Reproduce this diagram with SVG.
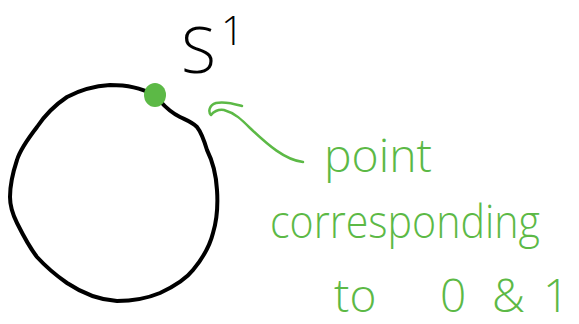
<svg xmlns="http://www.w3.org/2000/svg" width="579" height="324" viewBox="0 0 579 324">
<style>
.g{fill:#5cb946;font-family:"Open Sans","Liberation Sans",sans-serif;font-weight:300;font-size:46px}
.k{fill:#000000;font-family:"Open Sans","Liberation Sans",sans-serif;font-weight:300}
</style>
<rect width="579" height="324" fill="#fff"/>
<g id="circle">
<path d="M155,95 C140,88 128,85 110,85 C95,86 80,90 67,97 C55,105 45,115 37,127 C27,140 20,150 17,160 C12,175 10,187 10,197 C10,207 13,215 17,223 C24,237 30,248 37,257 C47,268 57,276 67,283 C82,293 100,300 117,301 C133,301 148,298 160,293 C175,286 186,279 193,270 C203,258 210,245 213,233 C217,220 218,205 217,190 C216,172 212,160 207,150 C204,140 201,132 197,127 C192,122 186,120 180,117 C172,113 167,109 160,101" fill="none" stroke="#000" stroke-width="4" stroke-linecap="round" stroke-linejoin="round"/>
</g>
<g id="dot">
<ellipse cx="155" cy="95" rx="11" ry="12" fill="#5cb946"/>
</g>
<g id="label-s1">
<text class="k" x="181" y="73" font-size="64">S<tspan x="221" y="45" font-size="40">1</tspan></text>
</g>
<g id="connectors">
<path d="M303,162 C285,160 268,145 250,128 C242,120 235,113 224,110 C218,109 213,112 211,115 C208,112 209,105 216,103 C225,101 235,104 242,106" fill="none" stroke="#5cb946" stroke-width="2.5" stroke-linecap="round" stroke-linejoin="round"/>
</g>
<g id="annotation">
<text class="g" x="324" y="172" textLength="108" lengthAdjust="spacingAndGlyphs">point</text>
<text class="g" x="270" y="238" textLength="270" lengthAdjust="spacingAndGlyphs">corresponding</text>
<text class="g" y="312"><tspan x="334">to</tspan><tspan x="440">0</tspan><tspan x="492">&amp;</tspan><tspan x="543">1</tspan></text>
</g>
</svg>
